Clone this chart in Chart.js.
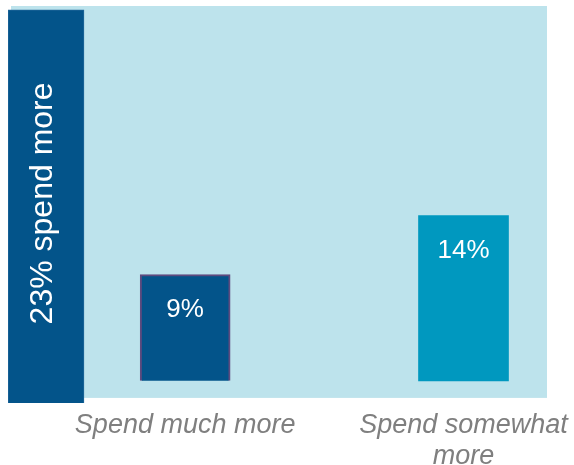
<!DOCTYPE html>
<html>
<head>
<meta charset="utf-8">
<script src="https://cdn.jsdelivr.net/npm/chart.js@4/dist/chart.umd.min.js"></script>
<style>
  html, body { margin: 0; padding: 0; background: #ffffff; }
  canvas { display: block; }
</style>
</head>
<body>
<canvas id="myChart" width="574" height="465"></canvas>
<script>
// data
var totalValue = 23;
var totalLabel = "23% spend more";
var categories = ["Spend much more", "Spend somewhat more"];
var values = [9, 14];
var tickLabels = [["Spend much more"], ["Spend somewhat", "more"]];

// slot on the x axis: total bar at 0, categories at 1 and 3
var totalSlot = 0;
var slots = [1, 3];

var barColors = ["#03548A", "#0098BF"];
var borderColors = ["#5E4A7E", "rgba(0,0,0,0)"];

var bgPlugin = {
  id: "plotBg",
  beforeDatasetsDraw: function(chart) {
    var a = chart.chartArea;
    var ctx = chart.ctx;
    ctx.save();
    ctx.fillStyle = "#BDE3EC";
    ctx.fillRect(a.left + 3, a.top, a.right - a.left - 3, a.bottom - a.top - 5);
    ctx.restore();
  }
};

var labelPlugin = {
  id: "barLabels",
  afterDatasetsDraw: function(chart) {
    var ctx = chart.ctx;
    ctx.save();
    ctx.fillStyle = "#ffffff";
    ctx.textAlign = "center";
    ctx.textBaseline = "middle";

    // values inside the two bars
    ctx.font = "26px 'Liberation Sans', Arial, sans-serif";
    chart.getDatasetMeta(1).data.forEach(function(el, i) {
      ctx.fillText(values[i] + "%", el.x, el.y + 35);
    });

    // rotated label in the total bar
    var t = chart.getDatasetMeta(0).data[0];
    ctx.font = "32px 'Liberation Sans', Arial, sans-serif";
    ctx.translate(t.x - 3, (t.y + t.base) / 2 - 3);
    ctx.rotate(-Math.PI / 2);
    ctx.fillText(totalLabel, 0, 0);
    ctx.restore();
  }
};

new Chart("myChart", {
  type: "bar",
  data: {
    datasets: [{
      label: totalLabel,
      data: [{ x: totalSlot, y: totalValue }],
      yAxisID: "y2",
      backgroundColor: "#03548A",
      borderColor: "#22679A",
      borderWidth: 1,
      barThickness: 76
    }, {
      label: "Spend more",
      data: values.map(function(v, i) { return { x: slots[i], y: v }; }),
      yAxisID: "y",
      backgroundColor: barColors,
      borderColor: borderColors,
      borderWidth: [2, 0],
      barThickness: 90
    }]
  },
  options: {
    responsive: false,
    animation: false,
    grouped: false,
    layout: { padding: { left: 8, right: 27, top: 6, bottom: -7 } },
    plugins: {
      legend: { display: false },
      tooltip: { enabled: false }
    },
    scales: {
      x: {
        type: "linear",
        min: -0.273,
        max: 3.6,
        offset: false,
        grid: { display: false, tickLength: 7 },
        border: { display: false },
        afterBuildTicks: function(axis) {
          axis.ticks = slots.map(function(v) { return { value: v }; });
        },
        ticks: {
          autoSkip: false,
          maxRotation: 0,
          padding: 0,
          color: "#7F7F7F",
          font: { family: "'Liberation Sans', Arial, sans-serif", size: 27, style: "italic", lineHeight: 1.15 },
          callback: function(value) {
            return tickLabels[slots.indexOf(value)];
          }
        }
      },
      y: { display: false, min: -1.87, max: 31.75 },
      y2: { display: false, min: 0, max: 23.23 }
    }
  },
  plugins: [bgPlugin, labelPlugin]
});
</script>
</body>
</html>
